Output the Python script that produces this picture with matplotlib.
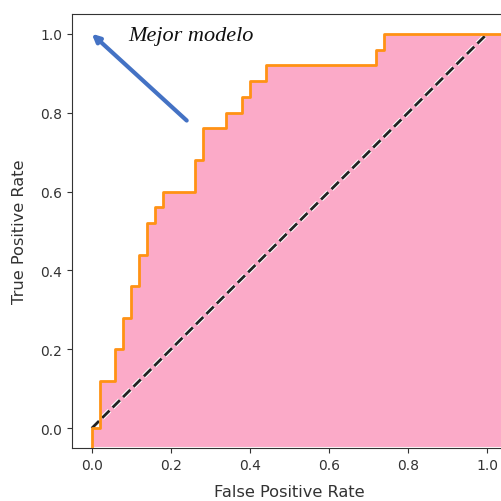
import matplotlib
matplotlib.use("Agg")
import matplotlib.pyplot as plt
import matplotlib.patheffects as pe

# ROC curve corner points
fpr = [0.00, 0.00, 0.02, 0.02, 0.06, 0.06, 0.08, 0.08, 0.10, 0.10, 0.12, 0.12,
       0.14, 0.14, 0.16, 0.16, 0.18, 0.18, 0.26, 0.26, 0.28, 0.28, 0.34, 0.34,
       0.38, 0.38, 0.40, 0.40, 0.44, 0.44, 0.72, 0.72, 0.74, 0.74, 1.00, 1.05]
tpr = [-0.05, 0.00, 0.00, 0.12, 0.12, 0.20, 0.20, 0.28, 0.28, 0.36, 0.36, 0.44,
       0.44, 0.52, 0.52, 0.56, 0.56, 0.60, 0.60, 0.68, 0.68, 0.76, 0.76, 0.80,
       0.80, 0.84, 0.84, 0.88, 0.88, 0.92, 0.92, 0.96, 0.96, 1.00, 1.00, 1.00]

diag = [0.0, 1.0]
arrow_start = (0.24, 0.78)
arrow_end = (0.0, 1.0)
annotation = "Mejor modelo"
xticks = [0.0, 0.2, 0.4, 0.6, 0.8, 1.0]
yticks = [0.0, 0.2, 0.4, 0.6, 0.8, 1.0]

fig = plt.figure(figsize=(5.02, 5.02), dpi=100)
ax = fig.add_axes([72/502, 1-449/502, (507-72)/502, (449-15)/502])

ax.fill_between(fpr, tpr, -0.05, facecolor="#fbaac8", edgecolor="white", linewidth=1.5, zorder=1)
ax.plot(fpr, tpr, color="#ff9214", lw=2, zorder=3)
ax.plot(diag, diag, color="#222222", ls="--", lw=2, zorder=2,
        path_effects=[pe.Stroke(linewidth=3.5, foreground="white"), pe.Normal()])

ax.annotate("", xy=arrow_end, xytext=arrow_start,
            arrowprops=dict(arrowstyle="-|>,head_length=0.45,head_width=0.22",
                            color="#4472c4", lw=3, shrinkA=0, shrinkB=0))
ax.text(0.093, 0.995, annotation, fontsize=16, fontstyle="italic", family="Liberation Serif",
        va="center", ha="left", color="#111111")

ax.set_xlim(-0.05, 1.05)
ax.set_ylim(-0.05, 1.05)
ax.set_xticks(xticks)
ax.set_yticks(yticks)
ax.set_xlabel("False Positive Rate", fontsize=11.7, color="#333333", labelpad=8.5)
ax.set_ylabel("True Positive Rate", fontsize=11.7, color="#333333", labelpad=9.5)
ax.tick_params(colors="#333333", labelsize=10)
for s in ax.spines.values():
    s.set_color("#333333")

fig.savefig("out.png", dpi=100)
